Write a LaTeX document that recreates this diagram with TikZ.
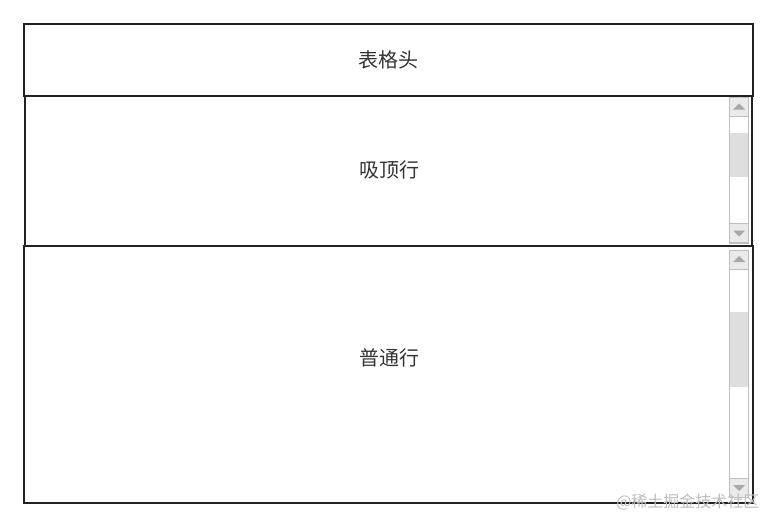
\documentclass[tikz,border=0pt]{standalone}
\usepackage{fontspec}
\newfontfamily\cjk{Noto Sans CJK SC}
\usepackage{tikz}
\usetikzlibrary{positioning}
\usepackage{xcolor}
\definecolor{tbline}{RGB}{34,34,34}
\definecolor{tbtext}{RGB}{51,51,51}
\definecolor{sbline}{RGB}{190,190,190}
\definecolor{sbbutton}{RGB}{234,234,234}
\definecolor{sbthumb}{RGB}{222,222,222}
\definecolor{sbarrow}{RGB}{168,168,168}
\definecolor{wmgray}{RGB}{190,190,190}
\tikzstyle{rowbox} = [rectangle, draw=tbline, line width=1.6pt, fill=white, minimum width=729pt, inner sep=0pt, font=\cjk\fontsize{20}{23}\selectfont, text=tbtext]
\tikzstyle{rowtext} = [font=\cjk\fontsize{20}{23}\selectfont, text=tbtext]
\tikzstyle{track} = [rectangle, draw=sbline, line width=0.8pt, fill=white, minimum width=19pt, inner sep=0pt]
\tikzstyle{sbbtn} = [rectangle, draw=sbline, line width=0.8pt, fill=sbbutton, minimum width=19pt, minimum height=19pt, inner sep=0pt]
\tikzstyle{thumb} = [rectangle, fill=sbthumb, minimum width=18pt, inner sep=0pt]

\begin{document}
\begin{tikzpicture}[x=1pt, y=-1pt]
\useasboundingbox (0,0) rectangle (778,528);

% Table rows
\node[rowbox, minimum height=72pt] (header) at (388.5,60) {表格头};
\node[rowbox, minimum height=257pt] (normal) at (388.5,374.5) {};
\node[rowbox, minimum width=727pt, minimum height=150pt] (sticky) at (388.5,171) {};
\node[rowtext] (stickytext) at (389,170) {吸顶行};
\node[rowtext] (normaltext) at (389,358) {普通行};

% Scrollbar of the sticky row
\node[track, minimum height=146pt] (stickytrack) at (739,170) {};
\node[thumb, minimum height=44pt] (stickythumb) at (739,155) {};
\node[sbbtn] (stickyup) at (739,107) {};
\node[sbbtn] (stickydown) at (739,233) {};
\fill[sbarrow] ([xshift=-6pt,yshift=-2.5pt]stickyup.center) -- ([xshift=6pt,yshift=-2.5pt]stickyup.center) -- ([yshift=3.5pt]stickyup.center) -- cycle;
\fill[sbarrow] ([xshift=-6pt,yshift=2.5pt]stickydown.center) -- ([xshift=6pt,yshift=2.5pt]stickydown.center) -- ([yshift=-3.5pt]stickydown.center) -- cycle;

% Scrollbar of the normal row
\node[track, minimum height=247pt] (normaltrack) at (739,373.5) {};
\node[thumb, minimum height=75pt] (normalthumb) at (739,349.5) {};
\node[sbbtn] (normalup) at (739,259.5) {};
\node[sbbtn] (normaldown) at (739,487.5) {};
\fill[sbarrow] ([xshift=-6pt,yshift=-2.5pt]normalup.center) -- ([xshift=6pt,yshift=-2.5pt]normalup.center) -- ([yshift=3.5pt]normalup.center) -- cycle;
\fill[sbarrow] ([xshift=-6pt,yshift=2.5pt]normaldown.center) -- ([xshift=6pt,yshift=2.5pt]normaldown.center) -- ([yshift=-3.5pt]normaldown.center) -- cycle;

% Watermark
\node[font=\cjk\fontsize{16}{18}\selectfont, text=wmgray, anchor=east] (mark) at (763,502) {@稀土掘金技术社区};
\end{tikzpicture}
\end{document}
